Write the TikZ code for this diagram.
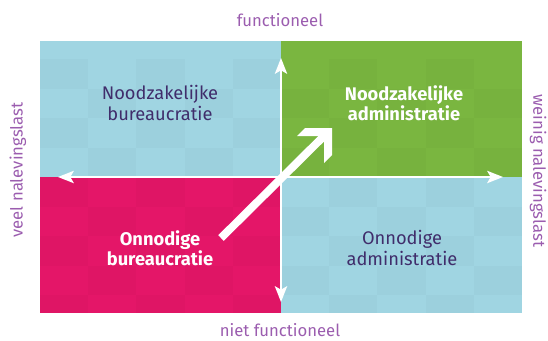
\documentclass[tikz,border=0pt]{standalone}
\usepackage{fontspec}
\setmainfont{Fira Sans}
\usepackage{xcolor}
\usetikzlibrary{arrows.meta}

\definecolor{vakblauw}{RGB}{160,213,226}
\definecolor{vakgroen}{RGB}{122,182,64}
\definecolor{vakroze}{RGB}{228,22,104}
\definecolor{aslabel}{RGB}{155,93,175}
\definecolor{vaktekst}{RGB}{64,45,107}

\tikzset{
  as/.style={draw=white, line width=1.1pt, -{Stealth[length=9pt, width=7pt, inset=2pt]}},
  aslabeltekst/.style={text=aslabel, font=\fontsize{9.5}{11.5}\selectfont},
  vaklabel/.style={align=center, font=\fontsize{10.4}{11.6}\selectfont},
  vaklabelvet/.style={align=center, text=white, font=\fontsize{10.4}{11.6}\selectfont\bfseries},
  tegel/.style={fill=black, fill opacity=0.02, draw=none}
}

\begin{document}
\begin{tikzpicture}
\useasboundingbox (0,0) rectangle (10.96,6.8);

% kwadranten
\fill[vakblauw] (0.8, 3.26) rectangle (5.62, 5.98);
\fill[vakgroen] (5.62, 3.26) rectangle (10.44, 5.98);
\fill[vakroze] (0.8, 0.54) rectangle (5.62, 3.26);
\fill[vakblauw] (5.62, 0.54) rectangle (10.44, 3.26);

% tegels
\foreach \i in {0,...,9} {
  \foreach \j in {0,...,8} {
    \pgfmathtruncatemacro{\k}{mod(\i+\j,2)}
    \ifnum\k=0
      \fill[tegel] ({0.8+0.964*\i}, {max(0.54, 3.26-0.59*(\j-3))}) rectangle ({0.8+0.964*(\i+1)}, {min(5.98, 3.26-0.59*(\j-4))});
    \fi
  }
}

% assen
\coordinate (O) at (5.62, 3.26);
\coordinate (boven) at (5.62, 5.64);
\coordinate (onder) at (5.62, 0.76);
\coordinate (links) at (1.16, 3.26);
\coordinate (rechts) at (10.06, 3.26);

\draw[as] (O) -- (boven);
\draw[as] (O) -- (onder);
\draw[as] (O) -- (links);
\draw[as] (O) -- (rechts);

% diagonale pijl
\coordinate (start) at (4.42, 2.04);
\coordinate (hoek) at (6.56, 4.16);
\draw[white, line width=4.5pt] (start) -- (hoek);
\fill[white] (6.64, 4.24) -- (6.10, 4.24) -- (5.94, 4.08) -- (6.48, 4.08)
  -- (6.48, 3.54) -- (6.64, 3.70) -- cycle;

% teksten
\node[aslabeltekst] (functioneel) at (5.6, 6.4) {functioneel};
\node[aslabeltekst] (nietfunctioneel) at (5.6, 0.2) {niet functioneel};
\node[aslabeltekst, rotate=90] (veel) at (0.36, 3.4) {veel nalevingslast};
\node[aslabeltekst, rotate=-90] (weinig) at (10.76, 3.38) {weinig nalevingslast};

\node[vaklabel, text=vaktekst] (nb) at (3.2, 4.74) {Noodzakelijke\\bureaucratie};
\node[vaklabelvet] (na) at (8.08, 4.74) {Noodzakelijke\\administratie};
\node[vaklabelvet] (ob) at (3.2, 1.84) {Onnodige\\bureaucratie};
\node[vaklabel, text=vaktekst] (oa) at (8.04, 1.84) {Onnodige\\administratie};
\end{tikzpicture}
\end{document}
